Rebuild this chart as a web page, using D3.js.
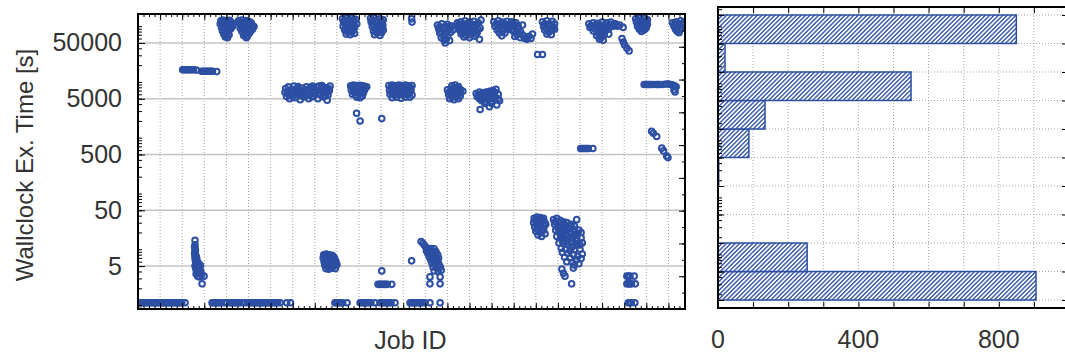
<!DOCTYPE html>
<html><head><meta charset="utf-8">
<script src="https://cdn.jsdelivr.net/npm/d3@7"></script>
<style>body{margin:0;background:#fff}svg{display:block}</style>
</head><body>
<svg id="c" width="1065" height="356"></svg>
<script>
// ---------- DATA ----------
// Scatter: [Job ID, wallclock execution time in seconds]
const shortJobs = [
[2,1.1],[9,1.1],[16,1.1],[23,1.1],[30,1.1],[37,1.1],[44,1.1],[51,1.1],[58,1.1],[65,1.1],[72,1.1],[79,1.1],[86,1.1],[93,1.1],[100,1.1],[107,1.1],[114,1.1],[121,1.1],[128,1.1],[135,1.1],[142,1.1],[149,1.1],[156,1.1],[163,1.1],[170,1.1],[177,1.1],[184,1.1],[191,1.1],[198,1.1],[213,1.1],
[335,1.1],[342,1.1],[349,1.1],[356,1.1],[363,1.1],[370,1.1],[377,1.1],[392,1.1],[403,1.1],
[416,1.1],[423,1.1],[430,1.1],[437,1.1],[444,1.1],[451,1.1],[458,1.1],[470,1.1],[484,1.1],
[498,1.1],[505,1.1],[512,1.1],[519,1.1],[526,1.1],[533,1.1],[540,1.1],[547,1.1],[554,1.1],[561,1.1],[568,1.1],[575,1.1],[582,1.1],[589,1.1],[596,1.1],[603,1.1],[610,1.1],[617,1.1],[624,1.1],[631,1.1],[643,1.1],[673,1.1],[690,1.1],
[891,1.1],[898,1.1],[905,1.1],[912,1.1],[919,1.1],[926,1.1],[946,1.1],
[1005,1.1],[1012,1.1],[1019,1.1],[1026,1.1],[1033,1.1],[1040,1.1],[1047,1.1],[1054,1.1],[1072,1.1],
[1095,1.1],[1102,1.1],[1109,1.1],[1116,1.1],[1123,1.1],[1130,1.1],[1137,1.1],[1145,1.1],[1163,1.1],
[1231,1.1],[1238,1.1],[1245,1.1],[1252,1.1],[1259,1.1],[1266,1.1],[1273,1.1],[1280,1.1],[1287,1.1],[1299,1.1],[1321,1.1],[1367,1.1],
[2218,1.1],[2225,1.1],[2232,1.1],[2248,1.1]
];
const fewSecondJobs = [
[258,14.5],[258,12],[258,10.3],[258,9],[258,8],[258,7.2],[259,6.5],[261,5.9],[262,5.4],[258,5],[266,4.8],[272,5.2],[283,5.1],[281,4.3],[262,4.4],[268,4],[275,3.7],[285,3.9],[263,3.6],[270,3.3],[278,3.2],[288,3.5],[299,3.3],[290,2.4],
[256,11],[260,9.6],[256,8.5],[263,7.6],[266,6.8],[268,6],[274,5.6],[270,4.5],[277,4.3],
[840,8],[852,8.2],[865,8],[878,7.8],[838,7],[850,7.2],[862,7],[876,7.1],[890,6.9],[842,6],[855,6.2],[868,6],[882,5.8],[896,6],[845,5.2],[858,5],[872,5.2],[886,5],[900,5.3],[850,4.5],[863,4.4],[878,4.6],[893,4.5],
[846,7.6],[858,7.6],[870,7.5],[884,7.4],[848,6.5],[860,6.6],[874,6.5],[888,6.4],[852,5.6],[866,5.6],[880,5.5],[894,5.5],
[1103,4.1],[1238,6.2],
[1086,2.35],[1093,2.35],[1100,2.35],[1107,2.35],[1114,2.35],[1121,2.35],[1128,2.35],[1148,2.35],
[1281,13.8],[1289,12.8],[1296,11.8],[1303,10.9],[1310,10.1],[1325,10.3],[1340,10.2],[1305,9.3],[1318,9.2],[1332,9],[1348,9.1],[1312,8.3],[1326,8.1],[1342,8.2],[1356,8],[1318,7.3],[1332,7.2],[1348,7.1],[1360,7],[1325,6.4],[1340,6.3],[1356,6.2],[1330,5.6],[1345,5.5],[1362,5.4],[1335,4.8],[1350,4.7],[1368,4.8],[1340,4.1],[1358,4],[1372,4.2],[1321,3.2],[1367,3.2],[1321,2.4],[1367,2.4],
[2212,3.3],[2219,3.3],[2226,3.3],[2245,3.3],[2212,2.4],[2219,2.4],[2226,2.4],[2233,2.4],[2250,2.4]
];
const tensSecondJobs = [
[1792,36],[1805,38],[1820,37],[1835,36],[1790,30],[1808,31],[1825,32],[1840,30],[1795,25],[1812,26],[1830,24],[1845,28],[1800,21],[1818,20],[1835,22],[1810,18],[1826,17],[1842,19],
[1798,33],[1815,34],[1832,33],[1802,28],[1820,28],[1838,26],[1806,23],[1824,23],
[1880,34],[1895,36],[1910,33],[1925,31],[1940,30],[1960,28],[1985,34],[1885,28],[1900,27],[1915,26],[1930,25],[1950,24],[1970,23],[1995,22],[1890,22],[1905,21],[1920,20],[1940,19],[1960,19],[1980,18],[2005,20],[1895,17],[1912,16],[1930,15.5],[1948,15],[1965,14],[1985,14],[2005,16],[1905,13],[1925,12.5],[1945,12],[1965,11],[1990,12],[2010,13],[1915,10.5],[1935,10],[1955,9.5],[1975,9.8],[2000,10],[1920,8.8],[1945,8.5],[1970,8],[1990,7.5],[2010,8.2],[1930,7.2],[1955,7],[1985,6.5],[2005,6.8],[1940,6],[1965,5.8],[1995,5.5],[1918,4.4],[1925,3.7],[1932,3.3],[1962,2.4],[1970,4.6],[1975,5.2],
[1888,31],[1905,30],[1920,28],[1935,27],[1955,26],[1975,26],[1900,24],[1915,23],[1935,22],[1955,21],[1975,21],[1990,19],[1910,18.5],[1925,17.5],[1945,17],[1965,16],[1985,16],[1920,14],[1940,13.5],[1960,13],[1980,12.5],[2000,12]
];
const hundredsSecondJobs = [
[2003,640],[2010,640],[2017,640],[2024,640],[2031,640],[2038,640],[2058,640],
[2324,1300],[2332,1200],[2347,1050],
[2370,650],[2378,580],[2392,470],[2398,440]
];
const thousandsSecondJobs = [
[665,6500],[672,5500],[668,7600],[680,8200],[683,6800],[686,5000],[692,5900],[698,7400],[705,8400],[708,6300],[712,5200],[718,7000],[724,8300],[728,5800],[734,4800],[738,6700],[744,7800],[750,5400],[756,6200],[762,8200],[766,7200],[772,5000],[778,6000],[784,7600],[790,8400],[794,5600],[800,6800],[808,8000],[814,5000],[820,6200],[826,7400],[832,8600],[838,5400],[844,6600],[850,7800],[856,4700],[860,5800],[866,7000],[869,8400],
[675,6200],[690,7000],[700,5500],[715,6100],[722,7600],[730,6600],[740,5600],[748,7000],[760,5600],[770,6600],[780,8000],[788,5400],[796,7600],[804,6000],[812,7000],[818,8400],[828,5800],[835,6800],[842,8000],[848,5600],[854,6400],[862,7600],
[962,8500],[975,8800],[990,8600],[1005,8700],[1020,8500],[1035,8200],[965,7200],[980,7000],[995,7400],[1010,7000],[1025,7200],[970,6000],[985,5800],[1000,6200],[1015,5600],[990,5300],[1005,5200],
[968,8000],[983,8000],[998,8000],[1013,8000],[1028,7800],[978,6500],[993,6600],[1008,6500],[1020,6400],
[989,2740],[1005,1990],[1103,2200],
[1135,8600],[1150,8800],[1165,8500],[1180,8800],[1195,8600],[1210,8800],[1225,8500],[1240,8600],[1138,7200],[1155,7000],[1175,7300],[1195,7100],[1215,7200],[1235,7000],[1140,6000],[1160,5800],[1180,6000],[1200,5800],[1220,6100],[1240,5800],[1150,5200],[1190,5100],[1230,5300],
[1145,8000],[1160,8000],[1175,8000],[1190,8000],[1205,8000],[1220,7800],[1235,7800],[1148,6500],[1168,6600],[1188,6500],[1208,6600],[1228,6500],[1170,5300],[1210,5300],
[1420,8500],[1435,8800],[1450,8300],[1400,7200],[1415,7000],[1430,7400],[1445,7000],[1460,7200],[1470,6800],[1405,6000],[1420,5800],[1440,6000],[1458,5600],[1410,5000],[1430,4800],[1450,5000],
[1408,6600],[1425,6500],[1440,6600],[1455,6400],[1428,7900],[1443,7800],[1420,5300],[1440,5300],
[1530,6200],[1545,6600],[1560,6400],[1575,6600],[1590,6800],[1605,7000],[1620,7400],[1535,5400],[1550,5200],[1565,5600],[1580,5400],[1595,5800],[1612,5600],[1630,6000],[1555,4600],[1570,4400],[1585,4800],[1600,4500],[1615,4800],[1630,5000],[1548,3200],[1590,3600],[1623,3850],[1636,4600],
[1540,5900],[1555,5900],[1570,6000],[1585,6100],[1600,6300],[1615,6500],[1545,5000],[1562,5000],[1578,5000],[1595,5100],[1610,5200],[1570,4100],[1600,4100],
[2290,9000],[2298,9000],[2305,9000],[2312,9000],[2320,9000],[2330,9000],[2345,9000],[2352,9000],[2360,9000],[2375,9000],[2390,9200],[2400,9200],[2410,9000],[2420,8800],[2428,8500],[2435,8200],[2425,7200],[2430,6600]
];
const tenThousandsSecondJobs = [
[202,16500],[209,16500],[216,16500],[223,16500],[230,16500],[237,16500],[244,16500],[251,16500],[264,16300],
[288,15500],[295,15500],[302,15500],[309,15500],[316,15500],[323,15500],[330,15500],[337,15500],[356,15300],
[1808,31000],[1830,31000],
[2190,60000],[2196,52000],[2202,46000],[2212,40000],[2222,36000]
];
const longJobs = [
[375,125000],[385,128000],[400,125000],[415,127000],[372,110000],[390,112000],[408,108000],[425,115000],[378,95000],[395,98000],[412,95000],[428,100000],[382,82000],[398,85000],[418,88000],[388,72000],[402,75000],[412,70000],[395,64000],[405,62000],
[380,118000],[398,120000],[416,120000],[385,104000],[403,103000],[420,106000],[390,90000],[406,91000],[422,94000],[394,78000],[408,80000],[400,68000],
[455,125000],[470,128000],[490,126000],[505,120000],[460,110000],[478,105000],[495,112000],[515,108000],[525,98000],[462,92000],[480,95000],[500,90000],[518,88000],[470,80000],[488,78000],[505,76000],[478,68000],[495,66000],[490,62000],
[462,118000],[480,118000],[498,120000],[512,115000],[468,100000],[488,100000],[506,98000],[520,95000],[475,86000],[493,85000],[510,82000],[485,72000],[500,72000],
[925,135000],[945,140000],[965,138000],[985,132000],[930,118000],[950,115000],[975,120000],[990,110000],[928,100000],[948,98000],[968,96000],[935,85000],[955,82000],[975,86000],[942,72000],[960,70000],[980,74000],
[935,128000],[955,128000],[975,128000],[938,108000],[958,106000],[978,106000],[940,92000],[960,90000],[980,95000],[950,78000],[968,78000],
[1052,138000],[1070,140000],[1095,135000],[1110,130000],[1055,118000],[1078,115000],[1100,112000],[1060,98000],[1085,100000],[1105,95000],[1065,82000],[1090,80000],[1110,85000],[1070,70000],[1095,68000],
[1060,128000],[1082,126000],[1102,122000],[1065,108000],[1088,106000],[1108,104000],[1072,90000],[1096,88000],[1080,76000],[1102,76000],
[1238,135000],[1240,118000],
[1355,105000],[1375,110000],[1400,108000],[1420,100000],[1360,90000],[1385,88000],[1410,92000],[1365,75000],[1390,72000],[1415,78000],[1372,62000],[1395,58000],[1410,55000],[1390,50000],[1425,85000],
[1365,98000],[1390,98000],[1412,100000],[1370,82000],[1396,80000],[1380,68000],[1402,66000],[1385,56000],
[1445,115000],[1460,120000],[1480,125000],[1500,118000],[1520,122000],[1540,115000],[1450,100000],[1470,98000],[1490,102000],[1510,95000],[1530,100000],[1548,92000],[1455,85000],[1475,82000],[1495,80000],[1515,84000],[1535,78000],[1462,72000],[1485,68000],[1505,70000],[1525,66000],[1545,58000],[1552,128000],
[1452,108000],[1472,110000],[1492,112000],[1512,108000],[1532,108000],[1458,92000],[1480,90000],[1500,88000],[1520,90000],[1540,86000],[1468,78000],[1490,75000],[1510,76000],[1530,72000],[1475,64000],[1500,62000],
[1610,120000],[1630,125000],[1650,118000],[1670,122000],[1690,120000],[1710,115000],[1615,100000],[1640,98000],[1660,102000],[1680,95000],[1700,98000],[1720,90000],[1625,85000],[1650,82000],[1646,67000],[1700,80000],[1720,75000],[1740,70000],[1705,65000],[1730,62000],[1750,60000],[1770,66000],[1785,72000],[1760,58000],[1690,110000],[1740,105000],
[1620,110000],[1640,112000],[1660,110000],[1680,108000],[1700,108000],[1720,102000],[1632,92000],[1655,90000],[1675,88000],[1690,86000],[1712,82000],[1730,80000],[1660,75000],[1715,70000],[1745,66000],[1762,64000],[1778,60000],[1635,75000],
[1830,120000],[1850,125000],[1875,122000],[1885,110000],[1835,100000],[1860,98000],[1880,95000],[1840,85000],[1865,82000],[1885,88000],[1850,72000],[1870,70000],
[1840,110000],[1862,110000],[1848,92000],[1870,90000],[1858,78000],
[2040,110000],[2060,115000],[2080,112000],[2100,118000],[2120,115000],[2140,118000],[2160,110000],[2180,105000],[2195,95000],[2045,95000],[2065,92000],[2085,98000],[2105,95000],[2125,98000],[2150,100000],[2060,82000],[2080,78000],[2100,80000],[2120,85000],[2075,68000],[2095,65000],[2110,70000],[2088,58000],[2105,56000],[2130,72000],
[2050,102000],[2070,105000],[2090,106000],[2112,106000],[2135,108000],[2155,106000],[2170,100000],[2070,88000],[2090,88000],[2110,88000],[2130,90000],[2085,72000],[2100,74000],[2095,62000],
[2252,135000],[2270,140000],[2290,138000],[2305,130000],[2255,118000],[2275,115000],[2298,120000],[2260,100000],[2282,98000],[2300,95000],[2268,88000],[2290,85000],[2278,80000],
[2262,128000],[2282,128000],[2300,125000],[2265,108000],[2288,108000],[2305,108000],[2272,92000],[2295,90000],
[2418,115000],[2435,120000],[2455,125000],[2470,118000],[2425,100000],[2445,98000],[2465,105000],[2437,95000],[2432,88000],[2452,85000],[2440,80000],
[2428,110000],[2448,110000],[2465,112000],[2438,90000],[2458,92000],[2448,76000]
];

// Scatter axes
const yTickValues = [5, 50, 500, 5000, 50000];
const yTickLabels = ["5", "50", "500", "5000", "50000"];
const jobGridStep = 100;

// Histogram: bin edges (seconds) from bottom to top and job counts per bin
const histEdges = [1.585, 5.012, 15.85, 50.12, 158.5, 501.2, 1585, 5012, 15849, 50119, 158489];
const histCounts = [906, 254, 0, 0, 2, 88, 134, 550, 20, 850];
const histTickValues = [0, 100, 200, 300, 400, 500, 600, 700, 800, 900, 1000];
const histTickLabels = [0, 400, 800];

// ---------- DRAW ----------
const blue = "#2c4fa3";
const textCol = "#333";
const font = "'Liberation Sans', Arial, sans-serif";
const svg = d3.select("#c");
const sc = {l:138, r:685, t:14, b:309};
const hc = {l:718, r:1069, t:7, b:308};

const x = d3.scaleLinear().domain([0, 2475]).range([sc.l, sc.r]);
const y = d3.scaleLog().domain([0.85, 165000]).range([sc.b, sc.t]);
const yR = d3.scaleLinear().domain([0, 9]).range([sc.b, sc.t]);
const hx = d3.scaleLinear().domain([0, 1000]).range([hc.l, hc.r]);
const hy = d3.scaleLog().domain([1.148, 218776]).range([hc.b, hc.t]);

// defs
const defs = svg.append("defs");
defs.append("clipPath").attr("id","sclip").append("rect")
  .attr("x", sc.l).attr("y", sc.t).attr("width", sc.r-sc.l).attr("height", sc.b-sc.t);
const pat = defs.append("pattern").attr("id","hatch").attr("patternUnits","userSpaceOnUse")
  .attr("width", 3.1).attr("height", 3.1).attr("patternTransform","rotate(45)");
pat.append("rect").attr("width",3.1).attr("height",3.1).attr("fill","#fff");
pat.append("line").attr("x1",0.7).attr("y1",0).attr("x2",0.7).attr("y2",3.1)
  .attr("stroke", blue).attr("stroke-width",1.35);

// ----- scatter grid -----
const jobTicks = d3.range(jobGridStep, 2475, jobGridStep);
svg.append("g").selectAll("line").data(jobTicks).join("line")
  .attr("x1", d=>x(d)).attr("x2", d=>x(d)).attr("y1", sc.t).attr("y2", sc.b)
  .attr("stroke","#a8a8a8").attr("stroke-width",1).attr("stroke-dasharray","1,2");
svg.append("g").selectAll("line").data(yTickValues).join("line")
  .attr("x1", sc.l).attr("x2", sc.r).attr("y1", d=>y(d)).attr("y2", d=>y(d))
  .attr("stroke","#c4c4c4").attr("stroke-width",1.6);

// ----- scatter points -----
const allPts = [].concat(shortJobs, fewSecondJobs, tensSecondJobs, hundredsSecondJobs,
  thousandsSecondJobs, tenThousandsSecondJobs, longJobs);
svg.append("g").attr("clip-path","url(#sclip)").selectAll("circle").data(allPts).join("circle")
  .attr("cx", d=>x(d[0])).attr("cy", d=>y(d[1])).attr("r", 2.8)
  .attr("fill","none").attr("stroke", blue).attr("stroke-width",2);

// ----- scatter axes (ticks inward) -----
function clean(g){ g.select(".domain").remove(); g.selectAll("line").attr("stroke","#000"); }
const yMinor = y.ticks();
svg.append("g").attr("transform",`translate(${sc.l},0)`)
  .call(d3.axisLeft(y).tickValues(yMinor).tickSize(-4).tickFormat(""))
  .call(clean);
svg.append("g").attr("transform",`translate(${sc.l},0)`)
  .call(d3.axisLeft(y).tickValues(yTickValues).tickSize(-7).tickPadding(16)
    .tickFormat((d,i)=>yTickLabels[i]))
  .call(clean)
  .call(g=>g.selectAll("text").attr("font-family",font).attr("font-size",25).attr("fill",textCol));
svg.append("g").attr("transform",`translate(${sc.r},0)`)
  .call(d3.axisRight(yR).tickValues(d3.range(0.5, 9, 0.5)).tickSize(-3).tickFormat(""))
  .call(clean);
svg.append("g").attr("transform",`translate(${sc.r},0)`)
  .call(d3.axisRight(yR).tickValues(d3.range(1, 9, 1)).tickSize(-6).tickFormat(""))
  .call(clean);
const jobMinor = d3.range(25, 2475, 25);
[[sc.b, d3.axisBottom],[sc.t, d3.axisTop]].forEach(([yy, ax])=>{
  svg.append("g").attr("transform",`translate(0,${yy})`)
    .call(ax(x).tickValues(jobMinor).tickSize(-3).tickFormat("")).call(clean);
  svg.append("g").attr("transform",`translate(0,${yy})`)
    .call(ax(x).tickValues(jobTicks).tickSize(-6).tickFormat("")).call(clean);
});
svg.append("rect").attr("x", sc.l).attr("y", sc.t).attr("width", sc.r-sc.l).attr("height", sc.b-sc.t)
  .attr("fill","none").attr("stroke","#000").attr("stroke-width",2);

// labels
svg.append("text").attr("x", (sc.l+sc.r)/2 - 1).attr("y", 349).attr("text-anchor","middle")
  .attr("font-family",font).attr("font-size",25).attr("fill",textCol).text("Job ID");
svg.append("text").attr("transform","translate(33,165) rotate(-90)").attr("text-anchor","middle")
  .attr("font-family",font).attr("font-size",24).attr("fill",textCol).text("Wallclock Ex. Time [s]");

// ----- histogram -----
svg.append("g").selectAll("line").data(histTickValues.slice(1,-1)).join("line")
  .attr("x1", d=>hx(d)).attr("x2", d=>hx(d)).attr("y1", hc.t).attr("y2", hc.b)
  .attr("stroke","#a8a8a8").attr("stroke-dasharray","1,2");
svg.append("g").selectAll("line").data(histEdges).join("line")
  .attr("x1", hc.l).attr("x2", hc.r).attr("y1", d=>hy(d)).attr("y2", d=>hy(d))
  .attr("stroke","#a8a8a8").attr("stroke-dasharray","1,2");
const bins = histCounts.map((c,i)=>({c, lo: histEdges[i], hi: histEdges[i+1]})).filter(b=>b.c>0);
svg.append("g").selectAll("rect").data(bins).join("rect")
  .attr("x", hx(0)).attr("y", d=>hy(d.hi)).attr("width", d=>hx(d.c)-hx(0))
  .attr("height", d=>hy(d.lo)-hy(d.hi))
  .attr("fill","url(#hatch)").attr("stroke", blue).attr("stroke-width",1.5);

svg.append("g").attr("transform",`translate(${hc.l},0)`)
  .call(d3.axisLeft(hy).tickValues(hy.ticks()).tickSize(-4).tickFormat("")).call(clean);
svg.append("g").attr("transform",`translate(${hc.l},0)`)
  .call(d3.axisLeft(hy).tickValues(histEdges).tickSize(-6).tickFormat("")).call(clean);
svg.append("g").attr("transform",`translate(${hc.r},0)`)
  .call(d3.axisRight(hy).tickValues(histEdges).tickSize(-7).tickFormat("")).call(clean);
svg.append("g").attr("transform",`translate(0,${hc.t})`)
  .call(d3.axisTop(hx).tickValues(histTickValues).tickSize(-6).tickFormat("")).call(clean);
svg.append("g").attr("transform",`translate(0,${hc.b})`)
  .call(d3.axisBottom(hx).tickValues(histTickValues).tickSize(-6).tickFormat("")).call(clean);
svg.append("rect").attr("x", hc.l).attr("y", hc.t).attr("width", hc.r-hc.l).attr("height", hc.b-hc.t)
  .attr("fill","none").attr("stroke","#000").attr("stroke-width",2);
svg.append("g").selectAll("text").data(histTickLabels).join("text")
  .attr("x", d=>hx(d)).attr("y", 348).attr("text-anchor","middle")
  .attr("font-family",font).attr("font-size",25).attr("fill",textCol).text(d=>d);
</script>
</body></html>
